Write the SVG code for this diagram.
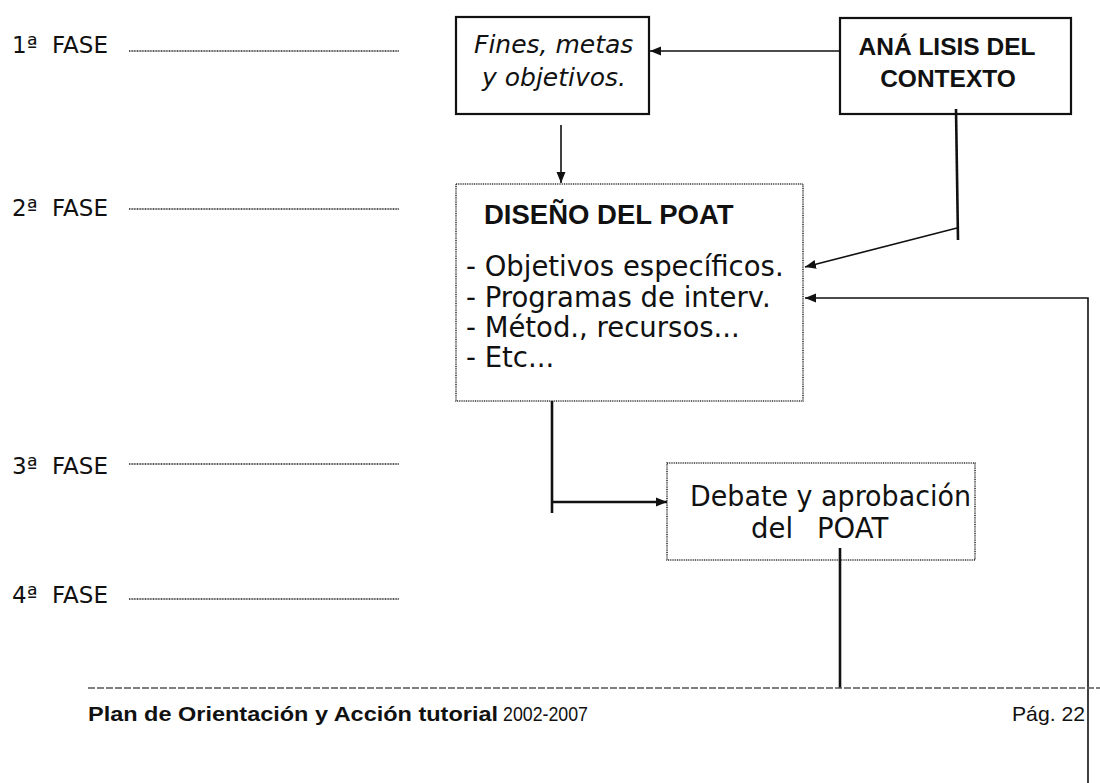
<svg xmlns="http://www.w3.org/2000/svg" width="1100" height="783" viewBox="0 0 1100 783">
<style>
.fase{font-family:"DejaVu Sans",sans-serif;font-size:23px;fill:#111}
.phl{stroke:#222;stroke-width:1.4;stroke-dasharray:1 0.6;fill:none}
.box{fill:#fff;stroke:#111;stroke-width:2.2}
.dbox{fill:#fff;stroke:#333;stroke-width:1.6;stroke-dasharray:1 0.8}
.it{font-family:"DejaVu Sans",sans-serif;font-size:25px;font-style:oblique;fill:#111}
.bd{font-family:"Liberation Sans",Arial,sans-serif;font-weight:bold;fill:#111}
.tx{font-family:"DejaVu Sans",sans-serif;font-size:27.5px;fill:#111}
.ln{stroke:#111;fill:none;stroke-width:1.6}
.lt{stroke:#111;fill:none;stroke-width:2.6}
.ft{font-family:"Liberation Sans",Arial,sans-serif;font-size:21px;fill:#111}
</style>
<defs>
<marker id="ah" markerUnits="userSpaceOnUse" markerWidth="12" markerHeight="12" viewBox="0 0 12 12" refX="11" refY="6" orient="auto">
<path d="M0,1.5 L11,6 L0,10.5 Z" fill="#111"/>
</marker>
</defs>
<rect width="1100" height="783" fill="#fff"/>

<g id="fases">
<text class="fase" y="53"><tspan x="12">1ª</tspan><tspan x="52">FASE</tspan></text>
<line class="phl" x1="129" y1="51" x2="399" y2="51"/>
<text class="fase" y="216"><tspan x="12">2ª</tspan><tspan x="52">FASE</tspan></text>
<line class="phl" x1="129" y1="209" x2="399" y2="209"/>
<text class="fase" y="474"><tspan x="12">3ª</tspan><tspan x="52">FASE</tspan></text>
<line class="phl" x1="129" y1="464" x2="399" y2="464"/>
<text class="fase" y="603"><tspan x="12">4ª</tspan><tspan x="52">FASE</tspan></text>
<line class="phl" x1="129" y1="599" x2="399" y2="599"/>
</g>

<g id="fines">
<rect class="box" x="456" y="17" width="193" height="97"/>
<text class="it" x="474" y="53">Fines, metas</text>
<text class="it" x="482" y="86">y objetivos.</text>
</g>

<g id="analisis">
<rect class="box" x="840" y="18" width="231" height="96"/>
<text class="bd" font-size="24.5" x="947" y="55" text-anchor="middle">ANÁ LISIS DEL</text>
<text class="bd" font-size="24.5" x="948" y="87" text-anchor="middle">CONTEXTO</text>
</g>

<g id="diseno">
<rect class="dbox" x="456" y="184" width="347" height="217"/>
<text class="bd" font-size="27.5" x="484" y="224">DISEÑO DEL POAT</text>
<text class="tx" x="466" y="276">- Objetivos específicos.</text>
<text class="tx" x="466" y="307">- Programas de interv.</text>
<text class="tx" x="466" y="337">- Métod., recursos...</text>
<text class="tx" x="466" y="367">- Etc...</text>
</g>

<g id="debate">
<rect class="dbox" x="667" y="463" width="308" height="97"/>
<text class="tx" x="690" y="506" font-size="27" textLength="281" lengthAdjust="spacingAndGlyphs">Debate y aprobación</text>
<text class="tx" y="538" font-size="27"><tspan x="751">del</tspan><tspan x="817">POAT</tspan></text>
</g>

<g id="connectors">
<line class="ln" x1="840" y1="51" x2="650" y2="51" marker-end="url(#ah)"/>
<line class="ln" x1="561" y1="125" x2="561" y2="183" marker-end="url(#ah)"/>
<line class="lt" x1="956" y1="109" x2="958" y2="240"/>
<line class="ln" x1="957" y1="228" x2="805" y2="267" marker-end="url(#ah)"/>
<polyline class="ln" points="1088,783 1088,298 805,298" marker-end="url(#ah)"/>
<line class="lt" x1="552" y1="401" x2="552" y2="513"/>
<line class="lt" x1="552" y1="502" x2="667" y2="502" marker-end="url(#ah)"/>
<line class="lt" x1="840" y1="548" x2="840" y2="688"/>
</g>

<g id="footer">
<line x1="88" y1="688" x2="1100" y2="688" stroke="#555" stroke-width="1.3" stroke-dasharray="7 2"/>
<text class="ft" x="88" y="721"><tspan font-weight="bold" textLength="410" lengthAdjust="spacingAndGlyphs">Plan de Orientación y Acción tutorial</tspan><tspan x="503" textLength="85" lengthAdjust="spacingAndGlyphs">2002-2007</tspan></text>
<text class="ft" x="1085" y="721" text-anchor="end" textLength="73" lengthAdjust="spacingAndGlyphs">Pág. 22</text>
</g>
</svg>
